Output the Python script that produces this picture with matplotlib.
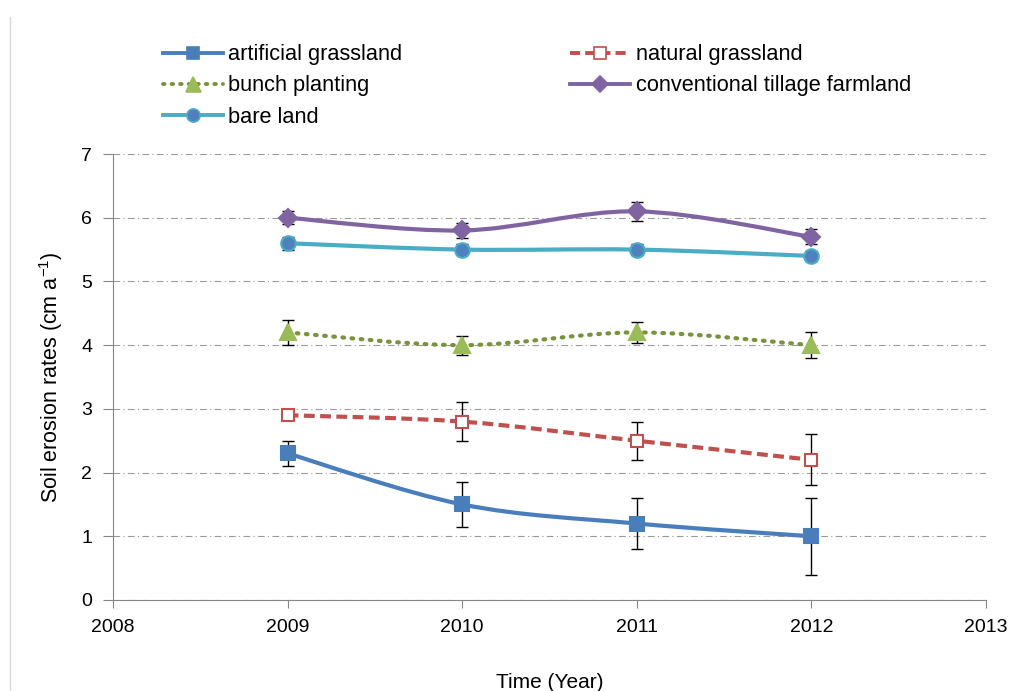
import numpy as np
import matplotlib
matplotlib.use("Agg")
import matplotlib.pyplot as plt
from matplotlib.path import Path
from matplotlib.patches import PathPatch
from matplotlib.lines import Line2D

# =========================
# 1. DATA
# =========================
years = [2009, 2010, 2011, 2012]

artificial = [2.3, 1.5, 1.2, 1.0]
artificial_err = [0.2, 0.35, 0.4, 0.6]

natural = [2.9, 2.8, 2.5, 2.2]
natural_err = [0.08, 0.3, 0.3, 0.4]

bunch = [4.2, 4.0, 4.2, 4.0]
bunch_err = [0.2, 0.15, 0.16, 0.2]

tillage = [6.0, 5.8, 6.1, 5.7]
tillage_err = [0.1, 0.12, 0.15, 0.12]

bare = [5.6, 5.5, 5.5, 5.4]
bare_err = [0.1, 0.09, 0.09, 0.08]

plt.rcParams["font.family"] = ["Liberation Sans", "DejaVu Sans"]
plt.rcParams["mathtext.fontset"] = "custom"
plt.rcParams["mathtext.rm"] = "Liberation Sans"


# smooth line like the spreadsheet "smoothed line" option
def smooth_path(x, y):
    x = np.asarray(x, float)
    y = np.asarray(y, float)
    verts = [(x[0], y[0])]
    codes = [Path.MOVETO]
    n = len(x)
    for i in range(n - 1):
        i0 = max(i - 1, 0)
        i3 = min(i + 2, n - 1)
        c1 = (x[i] + (x[i + 1] - x[i0]) / 6, y[i] + (y[i + 1] - y[i0]) / 6)
        c2 = (x[i + 1] - (x[i3] - x[i]) / 6, y[i + 1] - (y[i3] - y[i]) / 6)
        verts += [c1, c2, (x[i + 1], y[i + 1])]
        codes += [Path.CURVE4] * 3
    return Path(verts, codes)


# =========================
# 2. FIGURE
# =========================
fig = plt.figure(figsize=(10.11, 6.91), dpi=100)
ax = fig.add_axes([0.1118, 0.1317, 0.8635, 0.6454])

# thin frame line at left
fig.add_artist(Line2D([0.0095, 0.0095], [0.0, 0.975], transform=fig.transFigure,
                      color="#d9d9d9", lw=1))

series = [
    # label, values, err, line color, linestyle, marker, face, edge, size
    ("artificial grassland", artificial, artificial_err, "#4a7ebb", "-", "s", "#4a7ebb", "#4a7ebb", 10),
    ("natural grassland", natural, natural_err, "#c0504d", (0, (2.6, 1.3)), "s", "white", "#c0504d", 9),
    ("bunch planting", bunch, bunch_err, "#77933c", (0, (0.4, 1.8)), "^", "#9bbb59", "#9bbb59", 12),
    ("conventional tillage farmland", tillage, tillage_err, "#8064a2", "-", "D", "#8064a2", "#8064a2", 9.5),
    ("bare land", bare, bare_err, "#4bacc6", "-", "o", "#4f81bd", "#4bacc6", 10.5),
]

handles = {}
for label, vals, err, col, ls, mk, fc, ec, ms in series:
    patch = PathPatch(smooth_path(years, vals), facecolor="none", edgecolor=col,
                      lw=3.0, linestyle=ls, capstyle="round" if mk == "^" else "butt", zorder=2)
    ax.add_patch(patch)
    ax.errorbar(years, vals, yerr=err, fmt="none", ecolor="black", elinewidth=1,
                capsize=4, capthick=1, zorder=3)
    ax.plot(years, vals, linestyle="none", marker=mk, markersize=ms,
            markerfacecolor=fc, markeredgecolor=ec, markeredgewidth=1.5, zorder=4)
    h = Line2D([], [], color=col, lw=2.8, linestyle=ls, marker=mk,
               markersize=ms * 0.9, markerfacecolor=fc, markeredgecolor=ec,
               markeredgewidth=1.2)
    if mk == "^":
        h.set_dash_capstyle("round")
    handles[label] = h

# =========================
# 3. AXES STYLE
# =========================
ax.set_xlim(2008, 2013)
ax.set_ylim(0, 7)
ax.set_xticks(range(2008, 2014))
ax.set_yticks(range(0, 8))
ax.yaxis.grid(True, linestyle=(0, (6, 3, 1, 3)), color="#9a9a9a", lw=0.8)
ax.set_axisbelow(True)
for s in ["top", "right"]:
    ax.spines[s].set_visible(False)
for s in ["left", "bottom"]:
    ax.spines[s].set_color("#868686")
ax.tick_params(axis="both", colors="#868686", labelcolor="black", labelsize=14,
               direction="out")
ax.tick_params(axis="x", length=6, pad=8)
ax.tick_params(axis="y", length=7, pad=8)

ax.set_ylabel("Soil erosion rates (cm a$^{-1}$)", fontsize=15.5, labelpad=12)
ax.set_xlabel("Time (Year)", fontsize=15, labelpad=26)

# =========================
# 4. LEGEND
# =========================
order = ["artificial grassland", "bunch planting", "bare land",
         "natural grassland", "conventional tillage farmland"]
fig.legend([handles[k] for k in order], order, ncol=2, frameon=False,
           loc="upper left", bbox_to_anchor=(0.161, 0.936), fontsize=15.7,
           handlelength=2.75, handletextpad=0.25, columnspacing=7.7,
           labelspacing=0.47, borderpad=0, borderaxespad=0)

fig.savefig("out.png", dpi=100)
